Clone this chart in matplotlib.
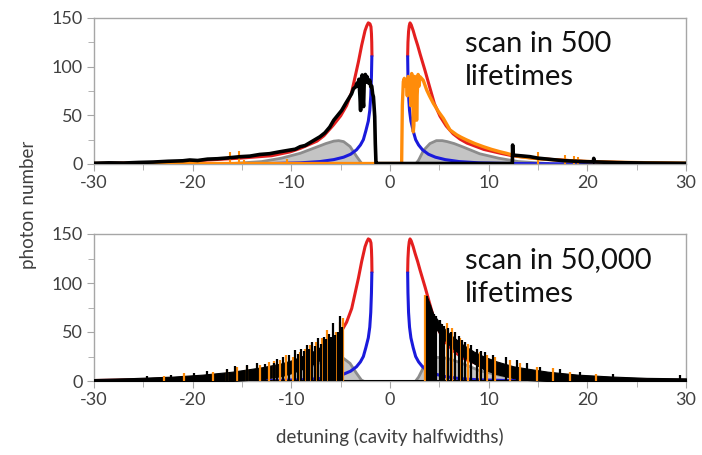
import numpy as np
import matplotlib
matplotlib.use("Agg")
import matplotlib.pyplot as plt

plt.rcParams['font.family'] = ['Lato', 'DejaVu Sans']
plt.rcParams['axes.unicode_minus'] = False

# ---- model curves (same in both panels) ----
red_left_x = [-30, -25, -20.3, -15.2, -12, -10.1, -9.1, -7.4, -6.7, -5.74, -5, -4.4, -3.88, -3.55, -3.2, -2.87, -2.53, -2.35, -2.2, -2.03, -1.93, -1.88, -1.85, -1.83]
red_left_y = [0.5, 1.2, 3, 6, 8.5, 12.5, 16, 23.5, 29, 40, 49.5, 60, 74, 89, 105, 122, 137, 142, 145, 144, 141, 134, 125, 112]
red_right_x = [1.79, 1.82, 1.88, 1.95, 2.03, 2.15, 2.35, 2.55, 2.8, 3.05, 3.55, 4.05, 4.5, 5.07, 5.7, 6.4, 7.1, 7.8, 9.5, 11.2, 12.4, 15, 20, 25, 30]
red_right_y = [112, 125, 136, 142, 145, 143, 137, 130, 122, 113, 96, 78, 62, 49, 39, 31, 25.5, 21.5, 15, 11, 8.5, 5.5, 2.5, 1.2, 0.5]

blue_left_x = [-1.84, -1.88, -1.95, -2.05, -2.2, -2.45, -2.7, -3.0, -3.4, -4.0, -4.7, -5.7, -7.1, -9.1, -12, -20, -30]
blue_left_y = [110, 90, 70, 55, 44, 34, 25, 19.5, 14.5, 10, 7, 4.5, 2.5, 1.2, 0.5, 0.1, 0]
blue_right_x = [1.79, 1.82, 1.88, 1.98, 2.12, 2.35, 2.6, 2.9, 3.3, 3.9, 4.6, 5.6, 7.0, 9.0, 12, 20, 30]
blue_right_y = [110, 90, 70, 55, 44, 34, 25, 19.5, 14.5, 10, 7, 4.5, 2.5, 1.2, 0.5, 0.1, 0]

gray_left_x = [-16, -13, -11, -9.1, -7.4, -6.5, -5.7, -5.2, -4.7, -4.05, -3.4, -2.9, -2.7]
gray_left_y = [0.5, 2.5, 6, 11, 17.5, 21, 23.5, 24, 23, 18, 8, 1, 0]
gray_right_x = [2.6, 2.9, 3.4, 4.05, 4.7, 5.3, 5.8, 6.5, 7.4, 9.1, 11, 13, 16]
gray_right_y = [0, 4, 14, 21, 24, 24, 23, 21, 17.5, 10.5, 6, 2.5, 0.5]

# ---- top panel: scan in 500 lifetimes ----
top_black_x = [-30, -28.5, -27, -25.5, -24, -22.5, -21, -20.3, -19.5, -18.5, -17.5, -16.5, -15.2, -14.2,
               -13.2, -12.2, -11.2, -10.1, -9.6, -9.1, -8.6, -8.1, -7.6, -7.1, -6.6, -6.1, -5.7, -5.3,
               -4.9, -4.5, -4.2, -3.9, -3.7, -3.5, -3.35, -3.25, -3.15, -3.05, -2.98, -2.9, -2.82, -2.75,
               -2.68, -2.6, -2.5, -2.42, -2.35, -2.25, -2.15, -2.05, -1.95, -1.85, -1.76, -1.68, -1.62,
               -1.55, -1.49, -1.42, -1.3, 0, 6, 12.4, 12.43, 12.46, 12.6, 13.5, 14.2, 15, 16.2, 17.5,
               19.6, 20.6, 20.65, 20.7, 23, 26, 30]
top_black_y = [0.8, 1.2, 1.0, 1.6, 2.0, 2.8, 3.3, 4.1, 3.6, 5.0, 5.4, 6.2, 7.5, 8.1,
               9.8, 10.6, 12.5, 14.4, 15.2, 17.8, 19.0, 22.0, 25.0, 28.0, 32.0, 38.0, 45.0, 50.0,
               55.0, 62.0, 67.0, 72.0, 77.5, 79.0, 83.0, 80.0, 87.0, 70.0, 55.0, 88.0, 91.5, 68.0,
               59.0, 89.0, 92.0, 84.0, 90.0, 87.0, 83.0, 86.0, 79.5, 80.0, 72.0, 69.0, 60.0,
               48.6, 21.3, 0.7, 0.5, 0.5, 0.5, 0.5, 19.5, 10.0, 9.0, 8.2, 7.5, 6.0, 4.8, 3.5,
               2.4, 2.2, 5.8, 2.2, 1.4, 1.0, 0.7]

top_orange_x = [30, 27, 24, 21, 19, 17, 15.5, 14, 13, 12.4, 11.8, 11.15, 10.3, 9.46, 8.6, 7.77, 7.2,
                6.76, 6.08, 5.4, 4.9, 4.39, 4.0, 3.72, 3.37, 3.04, 2.95, 2.85, 2.75, 2.7, 2.65, 2.55,
                2.5, 2.42, 2.36, 2.3, 2.2, 2.1, 2.05, 1.95, 1.85, 1.75, 1.65, 1.55, 1.45, 1.35, 1.25,
                1.18, 0, -30]
top_orange_y = [0.8, 1.2, 1.6, 2.2, 3.0, 4.0, 5.0, 6.5, 7.8, 9.3, 11.0, 12.6, 15.0, 17.8, 21.0, 24.7,
                27.5, 30.0, 35.0, 47.0, 54.0, 62.4, 70.0, 76.0, 86.0, 89.7, 80.0, 92.0, 70.0, 45.0,
                88.0, 60.0, 90.0, 40.0, 33.0, 85.0, 93.0, 60.0, 88.0, 75.0, 90.0, 70.0, 86.0, 80.0,
                88.0, 84.6, 60.0, 0.5, 0.5, 0.5]
top_orange_spike_x = [-21.5, -20.4, -16.2, -15.3, -14.8, -10.47, 15.03, 17.73, 18.65, 19.08, 22.5]
top_orange_spike_y = [3, 4, 12.6, 13.3, 4, 5.5, 12.6, 9.2, 8.2, 7.5, 3.5]

# ---- bottom panel: scan in 50,000 lifetimes ----
bl_x = [-30, -26, -22, -19, -16, -13, -11, -10, -9, -8, -7, -6, -5.4, -5.0, -4.85]
bl_top = [2, 3, 4.5, 6.5, 9.5, 14, 18, 21, 25, 29, 35, 41, 46, 51, 53]
bl_bot = [0, 0, 0, 0, 0, 2, 5, 8, 12, 16, 22, 29, 34, 38, 40]
br_x = [3.7, 3.9, 4.4, 5.0, 5.7, 6.4, 7.4, 8.5, 9.5, 10.8, 12.5, 14, 16, 19, 22.6, 26, 30]
br_top = [87, 82, 68, 60, 51, 45, 37, 30, 25, 20, 15, 12.5, 9.5, 6.5, 4.5, 3.2, 2.7]
br_bot = [76, 70, 57, 49, 40, 33, 25, 18, 12, 7, 3, 1, 0, 0, 0, 0, 0]

bot_orange_x = [-4.73, -5.07, -5.5, -6.42, -6.92, -7.5, -8.1, -8.6, -9.12, -9.8, -10.5, -11.15, -11.8,
                -12.3, -13.18, -14.5, -15.5, -16.5, -17.9, -20.9, -22.9,
                3.55, 4.56, 5.74, 6.25, 7.09, 7.93, 9.12, 9.8, 10.64, 12.16, 13.17, 14.87, 16.55,
                18.24, 20.9]
bot_orange_y = [64, 60, 50, 52, 44, 40, 37, 33, 30, 25, 27, 21, 20, 19, 16, 15, 14.6, 11, 9.5, 7.8, 5,
                88, 62, 59, 54, 44, 38, 30, 26.5, 25, 21.4, 18, 14.6, 13, 9.5, 7]
bot_black_x = [-4.9, -5.07, -5.3, -5.55, -5.74, -6.0, -6.2, -6.45, -6.7, -7.0, -7.26, -7.6, -7.9,
               -8.2, -8.45, -8.75, -9.0, -9.3, -9.63, -10.2, -10.8, -11.5, -11.8, -12.7, -13.5,
               -14.5, -15.7, -16.5, -18.5, -19.9, -22.2, -24.6,
               3.72, 3.85, 4.05, 4.3, 4.5, 4.7, 5.07, 5.3, 5.5, 5.9, 6.2, 6.59, 7.0, 7.3, 7.6,
               8.2, 8.79, 9.2, 9.63, 10.47, 11.8, 12.84, 13.85, 15.2, 17.2, 19.25, 22.6, 29.4]
bot_black_y = [55, 66, 50, 47, 59, 45, 48, 43, 45, 38, 44, 36, 40, 33, 37, 31, 33, 28, 32, 27, 25,
               22, 18, 17, 18, 16, 15, 12, 10, 8, 6, 5,
               87, 82, 78, 70, 68, 66, 62, 58, 56, 54, 50, 50, 46, 42, 40, 37, 33, 31, 30, 26.5,
               25, 21.4, 18, 14.6, 12, 9.5, 7, 6]

RED = '#e41f1f'
BLUE = '#1a1adc'
ORANGE = '#ff8c0a'
GRAY_FILL = '#c4c4c4'
GRAY_EDGE = '#8c8c8c'
SPINE = '#a6a6a6'
TXT = '#404040'


def style_axes(ax):
    ax.set_xlim(-30, 30)
    ax.set_ylim(0, 150)
    ax.set_xticks(np.arange(-30, 31, 10))
    ax.set_xticks(np.arange(-25, 30, 10), minor=True)
    ax.set_yticks([0, 50, 100, 150])
    ax.set_yticks([25, 75, 125], minor=True)
    for s in ax.spines.values():
        s.set_color(SPINE)
        s.set_linewidth(1.0)
    ax.tick_params(which='major', direction='out', length=5, color=SPINE,
                   labelsize=13, labelcolor=TXT, pad=3)
    ax.tick_params(which='minor', direction='out', length=4, color=SPINE)


def draw_model(ax):
    ax.fill_between(gray_left_x, 0, gray_left_y, color=GRAY_FILL, lw=0, zorder=1)
    ax.fill_between(gray_right_x, 0, gray_right_y, color=GRAY_FILL, lw=0, zorder=1)
    ax.plot(gray_left_x, gray_left_y, color=GRAY_EDGE, lw=2, zorder=1.1)
    ax.plot(gray_right_x, gray_right_y, color=GRAY_EDGE, lw=2, zorder=1.1)
    ax.plot(red_left_x, red_left_y, color=RED, lw=2.2, zorder=2)
    ax.plot(red_right_x, red_right_y, color=RED, lw=2.2, zorder=2)
    ax.plot(blue_left_x, blue_left_y, color=BLUE, lw=2.2, zorder=2)
    ax.plot(blue_right_x, blue_right_y, color=BLUE, lw=2.2, zorder=2)


fig = plt.figure(figsize=(7.02, 4.55), dpi=100)
ax1 = fig.add_axes([94 / 702, 1 - 164 / 455, 592 / 702, 146 / 455])
ax2 = fig.add_axes([94 / 702, 1 - 381 / 455, 592 / 702, 147 / 455])

# top panel
draw_model(ax1)
ax1.plot(top_orange_x, top_orange_y, color=ORANGE, lw=2.4, zorder=3)
ax1.vlines(top_orange_spike_x, 0, top_orange_spike_y, color=ORANGE, lw=1.5, zorder=3)
ax1.plot(top_black_x, top_black_y, color='black', lw=2.6, zorder=4)
style_axes(ax1)
ax1.text(0.627, 0.91, 'scan in 500\nlifetimes', transform=ax1.transAxes,
         fontsize=21, color='#111111', va='top', ha='left', linespacing=1.35)

# bottom panel
draw_model(ax2)
ax2.plot([-30, 30], [0.5, 0.5], color='black', lw=1.5, zorder=3)
ax2.fill_between(bl_x, bl_bot, bl_top, color='black', lw=0.8, zorder=3)
ax2.fill_between(br_x, br_bot, br_top, color='black', lw=0.8, zorder=3)
ax2.vlines(bot_orange_x, 0, bot_orange_y, color=ORANGE, lw=1.6, zorder=4)
ax2.vlines(bot_black_x, 0, bot_black_y, color='black', lw=1.6, zorder=5)
style_axes(ax2)
ax2.text(0.627, 0.91, 'scan in 50,000\nlifetimes', transform=ax2.transAxes,
         fontsize=21, color='#111111', va='top', ha='left', linespacing=1.35)

fig.text(0.04, 0.55, 'photon number', rotation=90, fontsize=13.5, color=TXT,
         ha='center', va='center')
fig.text(0.555, 0.04, 'detuning (cavity halfwidths)', fontsize=13.5, color=TXT,
         ha='center', va='center')

fig.savefig('out.png', dpi=100)
